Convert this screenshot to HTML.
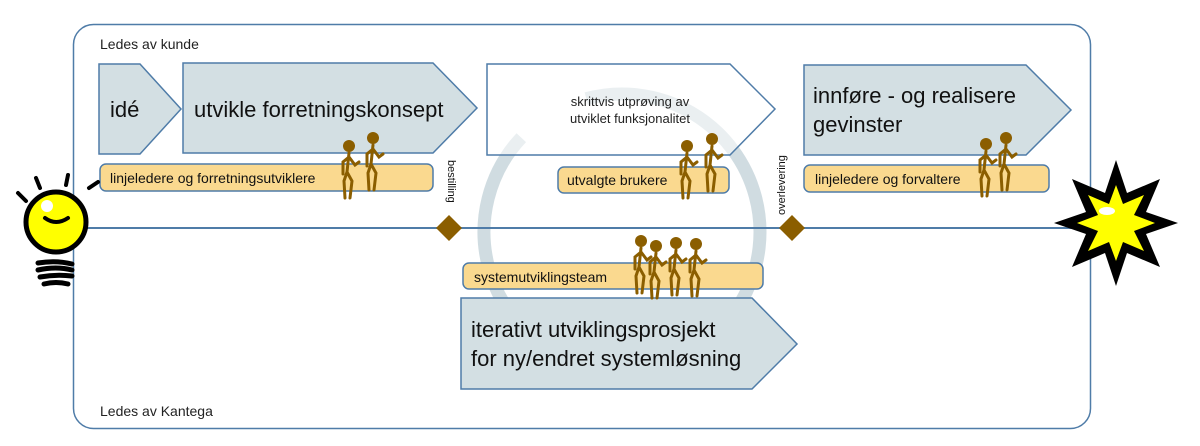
<!DOCTYPE html>
<html><head><meta charset="utf-8"><style>
html,body{margin:0;padding:0;background:#fff;}
svg{display:block;font-family:"Liberation Sans",Calibri,sans-serif;}
</style></head><body>
<svg width="1200" height="446" viewBox="0 0 1200 446" xmlns="http://www.w3.org/2000/svg">
<defs>
<g id="fig" fill="none" stroke="#8b5e00" stroke-width="3" stroke-linecap="round">
<circle cx="0" cy="0" r="6" fill="#8b5e00" stroke="none"/>
<path d="M0 7 L-2 26 L-5 35 L-4 52 M-2 26 L3 35 L1 52 M0 11 L-6 16 L-6 28 M0 11 L6 19 L10 16"/>
</g>
</defs>
<!-- swirl -->
<circle cx="622" cy="232" r="138" fill="none" stroke="#bccdd4" stroke-width="13" opacity="0.7" stroke-dasharray="790 77" transform="rotate(-105 622 232)"/>
<!-- outer box -->
<rect x="73.5" y="24.5" width="1017" height="404" rx="20" fill="none" stroke="#4f7ca8" stroke-width="1.5"/>
<line x1="85" y1="228" x2="1091" y2="228" stroke="#4f7ca8" stroke-width="2"/>
<text x="100" y="49" font-size="14" fill="#222">Ledes av kunde</text>
<text x="100" y="416" font-size="14" fill="#222">Ledes av Kantega</text>
<!-- chevrons -->
<g stroke="#4f7ca8" stroke-width="1.5">
<polygon points="99,64 140,64 181,109 140,154 99,154" fill="#d3dfe3"/>
<polygon points="183,63 433,63 477,108 433,153 183,153" fill="#d3dfe3"/>
<polygon points="487,64 730,64 775,109 730,155 487,155" fill="rgba(255,255,255,0.55)"/>
<polygon points="804,65 1026,65 1071,110 1026,155 804,155" fill="#d3dfe3"/>
<polygon points="461,298 752,298 797,344 752,389 461,389" fill="#d3dfe3"/>
</g>
<g fill="#111" font-size="22">
<text x="110" y="117">idé</text>
<text x="194" y="117">utvikle forretningskonsept</text>
<text x="813" y="103">innføre - og realisere</text>
<text x="813" y="132">gevinster</text>
<text x="471" y="337">iterativt utviklingsprosjekt</text>
<text x="471" y="366">for ny/endret systemløsning</text>
</g>
<text x="630" y="106" font-size="13" fill="#222" text-anchor="middle">skrittvis utprøving av</text>
<text x="630" y="123" font-size="13" fill="#222" text-anchor="middle">utviklet funksjonalitet</text>
<!-- yellow bars -->
<g fill="#fad98f" stroke="#4f7ca8" stroke-width="1.5">
<rect x="100" y="164" width="333" height="27" rx="6"/>
<rect x="558" y="167" width="171" height="26" rx="6"/>
<rect x="804" y="165" width="245" height="27" rx="6"/>
<rect x="463" y="263" width="300" height="26" rx="6"/>
</g>
<g font-size="14" fill="#111">
<text x="110" y="183">linjeledere og forretningsutviklere</text>
<text x="567" y="185">utvalgte brukere</text>
<text x="815" y="184">linjeledere og forvaltere</text>
<text x="474" y="282">systemutviklingsteam</text>
</g>
<!-- figures -->
<use href="#fig" x="349" y="146"/><use href="#fig" x="373" y="138"/>
<use href="#fig" x="687" y="146"/><use href="#fig" x="712" y="139"/>
<use href="#fig" x="986" y="144"/><use href="#fig" x="1006" y="138"/>
<use href="#fig" x="641" y="241"/><use href="#fig" x="656" y="246"/><use href="#fig" x="676" y="243"/><use href="#fig" x="696" y="244"/>
<!-- diamonds -->
<polygon points="449,215 462,228 449,241 436,228" fill="#8b5e00"/>
<polygon points="792,215 805,228 792,241 779,228" fill="#8b5e00"/>
<text transform="translate(448,160) rotate(90)" font-size="11" fill="#111">bestilling</text>
<text transform="translate(785,215) rotate(-90)" font-size="11" fill="#111">overlevering</text>
<!-- bulb -->
<g stroke="#000" stroke-linecap="round" fill="none">
<circle cx="56" cy="222" r="30" fill="#ffff00" stroke-width="5"/>
<circle cx="47" cy="206" r="6" fill="#fff" stroke="none"/>
<path d="M45 218 Q56 226 68 218" stroke-width="4"/>
<path d="M18 193 L26 201 M36 178 L40 188 M68 175 L66 185 M89 188 L98 182" stroke-width="4"/>
<path d="M38 263 Q56 260 72 264 M38 270 Q56 266 72 270 M40 277 Q56 274 72 276 M44 284 Q56 281 68 284" stroke-width="5"/>
</g>
<!-- star -->
<polygon fill="#000" points="1116,160 1127,193 1160,179 1146,212 1178,223 1146,234 1160,267 1127,253 1116,286 1105,253 1072,267 1086,234 1054,223 1086,212 1072,179 1105,193"/>
<polygon fill="#ffff00" points="1116,185 1123,204 1144,195 1134,215 1155,223 1134,231 1144,251 1123,242 1116,261 1109,242 1088,251 1098,231 1077,223 1098,215 1088,195 1109,204"/>
<ellipse cx="1107" cy="211" rx="8" ry="4" fill="#fff"/>
</svg>
</body></html>
